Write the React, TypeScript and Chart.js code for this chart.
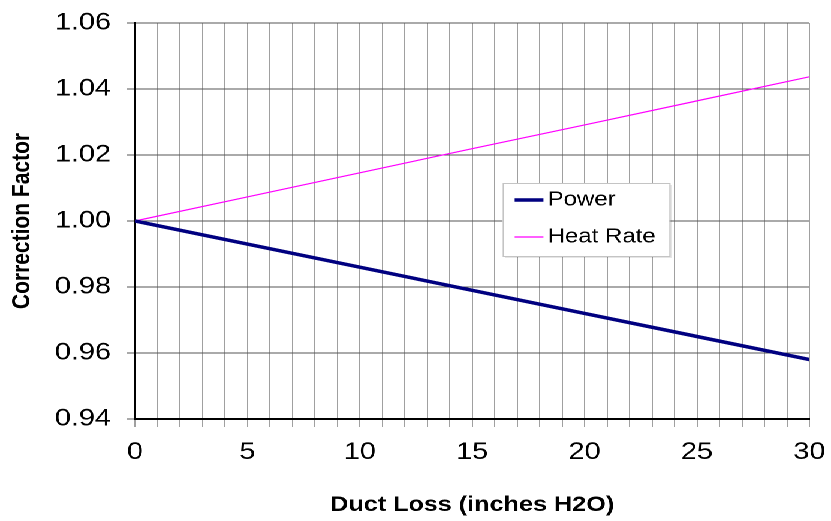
import React, { useEffect, useRef } from 'react';
import { Chart, registerables } from 'chart.js';

Chart.register(...registerables);

// ---- data ----
const ductLoss = [0, 5, 10, 15, 20, 25, 30];
const power = [1.0, 0.993, 0.986, 0.979, 0.972, 0.965, 0.958];
const heatRate = [1.0, 1.0073, 1.0146, 1.0219, 1.0291, 1.0364, 1.0437];
const seriesNames = ['Power', 'Heat Rate'];
const seriesColors = ['#000080', '#ff00ff'];
const seriesWidths = [3.5, 1.2];
const xTitle = 'Duct Loss (inches H2O)';
const yTitle = 'Correction Factor';
const yMin = 0.94;
const yMax = 1.06;
const yStep = 0.02;
const xMin = 0;
const xMax = 30;
const xGridStep = 1;
const xLabelStep = 5;

// ---- layout ----
const W = 693;
const H = 521;
const SX = 831 / W;
const FONT = '"Liberation Sans", Arial, Helvetica, sans-serif';

const legendPlugin = {
  id: 'boxLegend',
  afterDraw(chart: any) {
    const { ctx, chartArea } = chart;
    const bx = chartArea.left + 306.7;
    const by = chartArea.top + 160;
    const bw = 139;
    const bh = 73;
    ctx.save();
    ctx.fillStyle = 'rgba(0,0,0,0.10)';
    ctx.fillRect(bx + 2, by + 2, bw, bh);
    ctx.fillStyle = '#ffffff';
    ctx.fillRect(bx, by, bw, bh);
    ctx.strokeStyle = '#c4c4c4';
    ctx.lineWidth = 1;
    ctx.strokeRect(bx + 0.5, by + 0.5, bw, bh);
    const rows = [by + 17, by + 54];
    chart.data.datasets.forEach((ds: any, i: number) => {
      const y = rows[i];
      ctx.strokeStyle = ds.borderColor;
      ctx.lineWidth = ds.borderWidth;
      ctx.beginPath();
      ctx.moveTo(bx + 10, y);
      ctx.lineTo(bx + 34, y);
      ctx.stroke();
      ctx.fillStyle = '#000';
      ctx.font = `20px ${FONT}`;
      ctx.textBaseline = 'middle';
      ctx.textAlign = 'left';
      ctx.fillText(ds.label, bx + 37.5, y);
    });
    ctx.restore();
  },
};

export default function App() {
  const ref = useRef<HTMLCanvasElement | null>(null);

  useEffect(() => {
    if (!ref.current) return;
    const chart = new Chart(ref.current, {
      type: 'line',
      data: {
        datasets: [power, heatRate].map((vals, i) => ({
          label: seriesNames[i],
          data: ductLoss.map((x, j) => ({ x, y: vals[j] })),
          borderColor: seriesColors[i],
          backgroundColor: seriesColors[i],
          borderWidth: seriesWidths[i],
          pointRadius: 0,
          tension: 0,
          fill: false,
        })),
      },
      options: {
        animation: false,
        responsive: false,
        devicePixelRatio: 2,
        layout: { padding: { left: 0, right: 18, top: 23, bottom: 0 } },
        plugins: {
          legend: { display: false },
          tooltip: { enabled: false },
        },
        scales: {
          x: {
            type: 'linear',
            min: xMin,
            max: xMax,
            afterFit: (s: any) => {
              s.height = 102;
              s.paddingLeft = 0;
              s.paddingRight = 0;
            },
            ticks: {
              stepSize: xGridStep,
              autoSkip: false,
              maxRotation: 0,
              padding: 11,
              color: '#000',
              font: { family: FONT, size: 24 },
              callback: (v: any) => (Number(v) % xLabelStep === 0 ? String(v) : ''),
            },
            grid: {
              color: '#a0a0a0',
              lineWidth: 1,
              tickLength: 8,
              drawTicks: true,
            },
            border: { display: true, color: '#000', width: 2 },
            title: {
              display: true,
              text: xTitle,
              color: '#000',
              font: { family: FONT, size: 21, weight: 'bold' },
              padding: { top: 0, bottom: 3 },
            },
          },
          y: {
            type: 'linear',
            min: yMin,
            max: yMax,
            afterFit: (s: any) => {
              s.width = 112.5;
              s.paddingTop = 0;
              s.paddingBottom = 0;
            },
            ticks: {
              stepSize: yStep,
              padding: 13,
              color: '#000',
              font: { family: FONT, size: 24 },
              callback: (v: any) => Number(v).toFixed(2),
            },
            grid: {
              color: '#555555',
              lineWidth: 1,
              tickLength: 7,
            },
            border: { display: true, color: '#000', width: 1.8 },
            title: {
              display: true,
              text: yTitle,
              color: '#000',
              font: { family: FONT, size: 21, weight: 'bold' },
              padding: { top: 6, bottom: 0 },
            },
          },
        },
      },
      plugins: [legendPlugin],
    } as any);
    return () => chart.destroy();
  }, []);

  return (
    <div
      style={{
        position: 'absolute',
        left: 0,
        top: 0,
        width: W,
        height: H,
        transform: `scaleX(${SX})`,
        transformOrigin: '0 0',
        background: '#fff',
      }}
    >
      <canvas ref={ref} width={W} height={H} style={{ width: W, height: H, display: 'block' }} />
    </div>
  );
}
